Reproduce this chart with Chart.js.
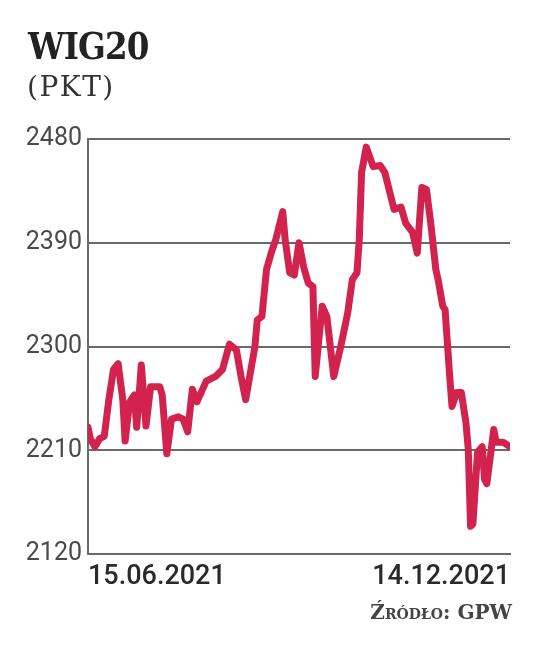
<!DOCTYPE html>
<html>
<head>
<meta charset="utf-8">
<script src="https://cdn.jsdelivr.net/npm/chart.js@4/dist/chart.umd.min.js"></script>
<style>
  body { margin: 0; background: #fff; }
  #wrap { position: relative; width: 536px; height: 665px; overflow: hidden; }
  #chart { position: absolute; left: 0; top: 0; }
  .title { position: absolute; left: 28px; top: 28px; font-family: "DejaVu Serif"; font-weight: bold; font-size: 37px; line-height: 1; color: #222; letter-spacing: -1px; transform: scaleX(0.88); transform-origin: left top; }
  .unit { position: absolute; left: 27px; top: 73px; font-family: "DejaVu Serif"; font-size: 28px; line-height: 1; color: #333; letter-spacing: 1.5px; }
  .source { position: absolute; right: 24px; top: 602px; font-family: "DejaVu Serif"; font-weight: bold; font-size: 20px; font-variant: small-caps; line-height: 1; color: #444; }
</style>
</head>
<body>
<div id="wrap">
  <canvas id="chart" width="536" height="665"></canvas>
  <div class="title">WIG20</div>
  <div class="unit">(PKT)</div>
  <div class="source">Źródło: GPW</div>
</div>
<script>
// days counted from 15.06.2021, WIG20 close in points
var days = [0, 1, 3, 5, 7, 9, 11, 13, 15, 16, 18, 20, 21, 23, 25, 27, 31, 32, 34, 36,
    39, 41, 43, 45, 47, 51, 55, 58, 61, 64, 66, 68, 72, 73, 75, 77, 79, 81, 84, 85,
    87, 89, 91, 93, 95, 97, 98, 101, 103, 106, 109, 112, 114, 116, 117, 118, 120, 123, 126, 128,
    131, 132, 135, 137, 140, 142, 143, 144, 146, 148, 150, 151, 153, 154, 155, 156, 157, 159, 161, 163,
    164, 165, 166, 168, 170, 171, 172, 175, 176, 179, 182];
var wig20 = [2230, 2220, 2213, 2220, 2222, 2254, 2280, 2285, 2254, 2218, 2252, 2258, 2230, 2284, 2231, 2265, 2265, 2258, 2207, 2237,
    2239, 2237, 2226, 2263, 2252, 2270, 2274, 2280, 2302, 2297, 2274, 2254, 2300, 2323, 2326, 2367, 2381, 2393, 2417, 2393,
    2364, 2362, 2390, 2369, 2355, 2352, 2274, 2335, 2326, 2274, 2300, 2329, 2358, 2364, 2393, 2451, 2473, 2456, 2457, 2451,
    2427, 2419, 2421, 2407, 2399, 2381, 2410, 2438, 2436, 2404, 2367, 2358, 2335, 2332, 2303, 2274, 2248, 2260, 2260, 2234,
    2211, 2144, 2146, 2208, 2213, 2185, 2181, 2228, 2217, 2217, 2213];
var xTickLabels = ["15.06.2021", "14.12.2021"];
var xTickDays = [0, 182];
var yTicks = [2120, 2210, 2300, 2390, 2480];

var points = days.map(function (d, i) { return { x: d, y: wig20[i] }; });

var ctx = document.getElementById('chart');
var chart = new Chart(ctx, {
    type: 'line',
    data: {
        datasets: [{
            label: 'WIG20',
            data: points,
            borderColor: '#d2234f',
            borderWidth: 7,
            borderJoinStyle: 'round',
            borderCapStyle: 'round',
            pointRadius: 0,
            tension: 0
        }]
    },
    options: {
        responsive: false,
        animation: false,
        layout: { padding: { top: 139, right: 26, bottom: 66, left: 0 } },
        plugins: { legend: { display: false }, tooltip: { enabled: false } },
        scales: {
            x: {
                type: 'linear',
                min: xTickDays[0],
                max: xTickDays[1],
                afterBuildTicks: function (scale) {
                    scale.ticks = xTickDays.map(function (v) { return { value: v }; });
                },
                afterFit: function (scale) {
                    scale.height = 45;
                    scale.paddingLeft = 0;
                    scale.paddingRight = 0;
                },
                grid: { display: false, drawTicks: false },
                border: { display: true, color: '#6a6a6a', width: 2 },
                ticks: {
                    align: 'inner',
                    padding: 7,
                    maxRotation: 0,
                    autoSkip: false,
                    color: '#2a2a2a',
                    font: { family: 'Roboto', size: 27, weight: '500' },
                    callback: function (value, index) { return xTickLabels[index]; }
                }
            },
            y: {
                min: yTicks[0],
                max: yTicks[yTicks.length - 1],
                afterBuildTicks: function (scale) {
                    scale.ticks = yTicks.map(function (v) { return { value: v }; });
                },
                afterFit: function (scale) {
                    scale.width = 88;
                    scale.paddingTop = 0;
                    scale.paddingBottom = 0;
                },
                grid: { color: '#6a6a6a', lineWidth: 2, drawTicks: false },
                border: { display: true, color: '#6a6a6a', width: 2 },
                ticks: {
                    padding: 6,
                    color: '#4a4a4a',
                    font: { family: 'Roboto', size: 25 },
                    callback: function (value) { return String(value); }
                }
            }
        }
    }
});
</script>
</body>
</html>
